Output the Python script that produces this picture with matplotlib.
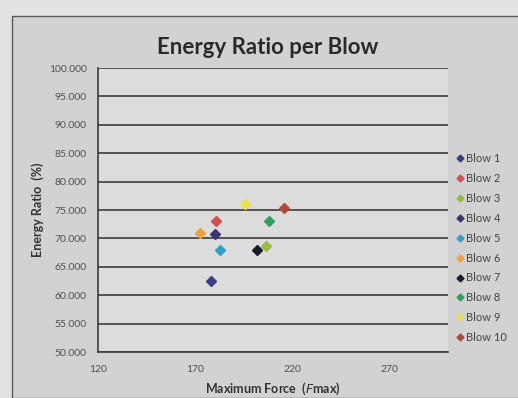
import matplotlib
matplotlib.use("Agg")
import matplotlib.pyplot as plt
from matplotlib.patches import Rectangle

# Blow data: maximum force vs. energy ratio
blows = ["Blow 1", "Blow 2", "Blow 3", "Blow 4", "Blow 5",
         "Blow 6", "Blow 7", "Blow 8", "Blow 9", "Blow 10"]
fmax = [178.3, 180.8, 206.5, 180.4, 182.6, 172.3, 201.7, 208.2, 195.4, 215.9]
energy_ratio = [62.5, 73.0, 68.7, 70.8, 68.0, 71.0, 68.0, 73.0, 76.0, 75.4]
colors = ["#3a3f80", "#d05050", "#9bbb40", "#3c3370", "#30a0c8",
          "#f0a040", "#1a1a2a", "#30a060", "#e8e050", "#b04a3a"]

x_ticks = [120, 170, 220, 270]
y_ticks = [50, 55, 60, 65, 70, 75, 80, 85, 90, 95, 100]

plt.rcParams["font.family"] = ["Lato", "DejaVu Sans"]

fig = plt.figure(figsize=(5.18, 3.98), dpi=100)
fig.patch.set_facecolor("#e2e2e2")

# chart area panel with thin border
panel = Rectangle((12 / 518, 0.0), 1.0, 1 - 16 / 398, transform=fig.transFigure,
                  facecolor="#d2d2d2", edgecolor="#5a5a5a", linewidth=1.0, zorder=-5)
fig.patches.append(panel)

ax = fig.add_axes([98 / 518, 1 - 352 / 398, 350 / 518, (352 - 68) / 398])
ax.set_zorder(2)
ax.set_facecolor("#dcdcdc")

for x, y, c, lab in zip(fmax, energy_ratio, colors, blows):
    ax.plot([x], [y], linestyle="none", marker="D", markersize=5,
            color=c, markeredgecolor=c, label=lab, zorder=3)

ax.set_xlim(120, 300)
ax.set_ylim(50, 100)
ax.set_xticks(x_ticks)
ax.set_yticks(y_ticks)
ax.set_yticklabels([f"{v:.3f}" for v in y_ticks])
ax.tick_params(axis="both", length=0, labelsize=7.5, colors="#505050")
ax.tick_params(axis="y", pad=8)
ax.tick_params(axis="x", pad=9)
ax.yaxis.grid(True, color="#3c3c3c", linewidth=1.2)
ax.set_axisbelow(True)
for side in ["top", "right"]:
    ax.spines[side].set_visible(False)
ax.spines["left"].set_color("#3c3c3c")
ax.spines["bottom"].set_color("#3c3c3c")
ax.spines["left"].set_linewidth(1.2)
ax.spines["bottom"].set_linewidth(1.2)

ax.set_xlabel("Maximum Force  ($\\mathit{F}$max)", fontsize=9, fontweight="bold",
              color="#333333")
ax.set_ylabel("Energy Ratio  (%)", fontsize=9, fontweight="bold", color="#333333")
ax.xaxis.set_label_coords(0.5, -0.10)
ax.yaxis.set_label_coords(-0.155, 0.5)

fig.text(268 / 518, 1 - 48 / 398, "Energy Ratio per Blow", ha="center", va="center",
         fontsize=16, fontweight="bold", color="#2a2a2a", zorder=3)

leg = ax.legend(loc="center left", bbox_to_anchor=(1.0, 0.366), frameon=False,
                fontsize=8, handletextpad=0.15, labelspacing=0.8,
                handlelength=0.8, borderaxespad=0.3, markerscale=0.7)
for t in leg.get_texts():
    t.set_color("#444444")

fig.savefig("out.png", dpi=100, facecolor=fig.get_facecolor())
